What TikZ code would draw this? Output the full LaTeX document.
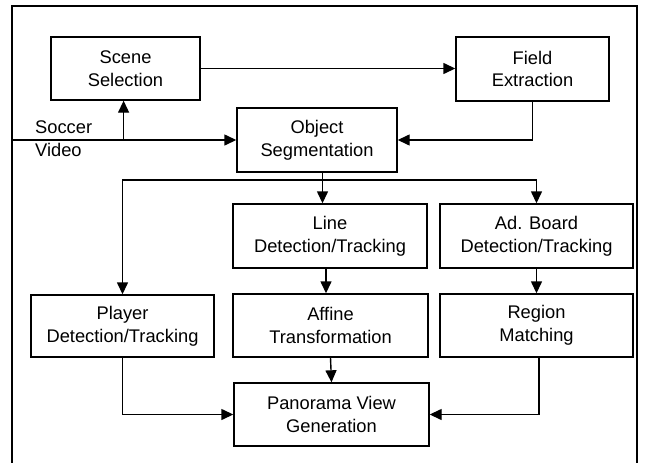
\documentclass[tikz,border=0pt]{standalone}
\usepackage{fontspec}
\setmainfont{Liberation Sans}
\usetikzlibrary{arrows.meta}
\begin{document}
\begin{tikzpicture}[x=1pt,y=-1pt,
  box/.style={draw,line width=1.4pt,align=center,inner sep=0pt,
    font=\fontsize{18.3}{22.7}\selectfont},
  conn/.style={line width=1.4pt},
  arr/.style={conn,-{Triangle[length=12pt,width=11pt]}}]
\useasboundingbox (0,0) rectangle (645,463);
\draw[line width=1.2pt] (12,463) -- (12,6) -- (637,6) -- (637,463);
\node[box,minimum width=149pt,minimum height=63pt] (scene) at (125.5,68.5) {Scene\\Selection};
\node[box,minimum width=153pt,minimum height=64pt] (field) at (532.5,69) {Field\\Extraction};
\node[box,minimum width=160pt,minimum height=64pt] (obj) at (317,140) {Object\\Segmentation};
\node[box,minimum width=194pt,minimum height=64pt] (line) at (330,236) {Line\\Detection/Tracking};
\node[box,minimum width=193pt,minimum height=64pt] (ad) at (536.5,236) {Ad. Board\\Detection/Tracking};
\node[box,minimum width=183pt,minimum height=62pt] (player) at (122.5,326) {Player\\Detection/Tracking};
\node[box,minimum width=195pt,minimum height=63pt] (affine) at (330.5,325.5) {Affine\\Transformation};
\node[box,minimum width=193pt,minimum height=63pt] (region) at (536.5,325.5) {Region\\Matching};
\node[box,minimum width=195pt,minimum height=63pt] (pano) at (331.5,414.5) {Panorama View\\Generation};
\node[anchor=west,align=left,inner sep=0pt,font=\fontsize{18.3}{22.7}\selectfont] (sv) at (35,139) {Soccer\\Video};
% connectors
\coordinate (in) at (12,140);
\coordinate (up) at (123.6,140);
\draw[arr] (in) -- (obj.west);
\draw[arr] (up) -- (up |- scene.south);
\draw[arr] (scene.east) -- (scene.east -| field.west);
\draw[arr] (field.south) |- (obj.east);
\coordinate (j) at (322.5,180);
\draw[conn] (obj.south -| j) -- (j);
\draw[arr] (j) -- (j |- line.north);
\draw[arr] (j) -| (player.north);
\draw[arr] (j) -| (ad.north);
\coordinate (la) at (326,0);
\draw[arr] (line.south -| la) -- (affine.north -| la);
\draw[arr] (ad.south) -- (region.north);
\draw[arr] (affine.south) -- (pano.north);
\draw[arr] (player.south) |- (pano.west);
\coordinate (rp) at (539,0);
\draw[arr] (region.south -| rp) |- (pano.east);
\end{tikzpicture}
\end{document}
